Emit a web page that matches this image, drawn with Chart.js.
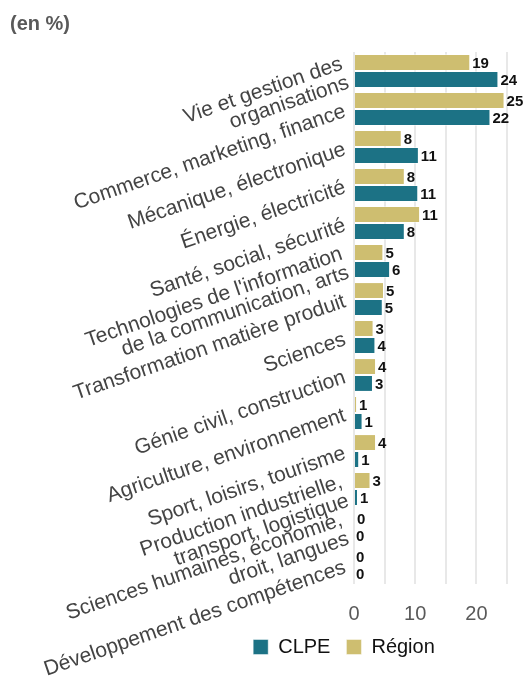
<!DOCTYPE html>
<html lang="fr">
<head>
<meta charset="utf-8">
<title>Répartition par domaine (en %)</title>
<script src="https://cdn.jsdelivr.net/npm/chart.js@4/dist/chart.umd.min.js"></script>
<style>
  html, body { margin: 0; padding: 0; background: #fff; }
  #wrap { width: 525px; height: 680px; position: relative; }
</style>
</head>
<body>
<div id="wrap"><canvas id="chart"></canvas></div>
<script>
const categories = [
  ["Vie et gestion des", "organisations"],
  "Commerce, marketing, finance",
  "Mécanique, électronique",
  "Énergie, électricité",
  "Santé, social, sécurité",
  ["Technologies de l'information", "de la communication, arts"],
  "Transformation matière produit",
  "Sciences",
  "Génie civil, construction",
  "Agriculture, environnement",
  "Sport, loisirs, tourisme",
  ["Production industrielle,", "transport, logistique"],
  ["Sciences humaines, économie,", "droit, langues"],
  "Développement des compétences"
];
const regionValues = [19.0, 24.6, 7.8, 8.3, 10.8, 4.8, 4.9, 3.2, 3.6, 0.5, 3.6, 2.7, 0.15, 0];
const clpeValues = [23.6, 22.3, 10.6, 10.5, 8.3, 5.9, 4.7, 3.5, 3.1, 1.4, 0.85, 0.65, 0, 0];
const xTickLabels = [0, 10, 20];

const TEAL = "#1c7285";
const GOLD = "#cebe70";

Chart.defaults.font.family = "'Liberation Sans', Arial, sans-serif";

// numbers at the end of each bar
const valueLabels = {
  id: "valueLabels",
  afterDatasetsDraw(chart) {
    const ctx = chart.ctx;
    ctx.save();
    ctx.font = "bold 15px 'Liberation Sans', Arial, sans-serif";
    ctx.fillStyle = "#111";
    ctx.textAlign = "left";
    ctx.textBaseline = "middle";
    chart.data.datasets.forEach((ds, i) => {
      chart.getDatasetMeta(i).data.forEach((bar, j) => {
        ctx.fillText(Math.round(ds.data[j]), bar.x + 2, bar.y + 1);
      });
    });
    ctx.restore();
  }
};

// legend sits under the bars rather than under the whole canvas
const legendShift = {
  id: "legendShift",
  afterLayout(chart) {
    const lg = chart.legend;
    lg.left += 84;
    lg.right += 84;
    lg.top -= 23;
    lg.bottom -= 23;
  }
};

new Chart(document.getElementById("chart"), {
  type: "bar",
  data: {
    labels: categories,
    datasets: [
      { label: "Région", data: regionValues, backgroundColor: GOLD,
        borderColor: "rgba(255,255,255,0.45)", borderWidth: 1 },
      { label: "CLPE", data: clpeValues, backgroundColor: TEAL,
        borderColor: "rgba(255,255,255,0.45)", borderWidth: 1 }
    ]
  },
  options: {
    indexAxis: "y",
    responsive: true,
    maintainAspectRatio: false,
    animation: false,
    categoryPercentage: 0.89,
    barPercentage: 1,
    layout: { padding: { left: 10, right: 15, bottom: -10, top: 0 } },
    plugins: {
      title: {
        display: true,
        text: "(en %)",
        align: "start",
        color: "#595959",
        font: { size: 20, weight: "bold" },
        padding: { top: 12, bottom: 16 }
      },
      legend: {
        position: "bottom",
        reverse: true,
        labels: {
          boxWidth: 15,
          boxHeight: 15,
          padding: 16,
          color: "#111",
          font: { size: 20 }
        }
      },
      tooltip: { enabled: false }
    },
    scales: {
      x: {
        min: 0,
        max: 25,
        grid: { color: "#e8e8e8", lineWidth: 2, drawTicks: false },
        border: { display: false },
        ticks: {
          stepSize: 5,
          padding: 18,
          color: "#595959",
          font: { size: 20 },
          callback: v => xTickLabels.includes(v) ? v : ""
        }
      },
      y: {
        grid: { display: false },
        border: { display: false },
        ticks: {
          autoSkip: false,
          minRotation: 19,
          maxRotation: 19,
          padding: 1,
          labelOffset: 2,
          color: "#444",
          font: { size: 21, lineHeight: 0.95 }
        },
        afterFit(scale) { scale.width = 344; }
      }
    }
  },
  plugins: [valueLabels, legendShift]
});
</script>
</body>
</html>
